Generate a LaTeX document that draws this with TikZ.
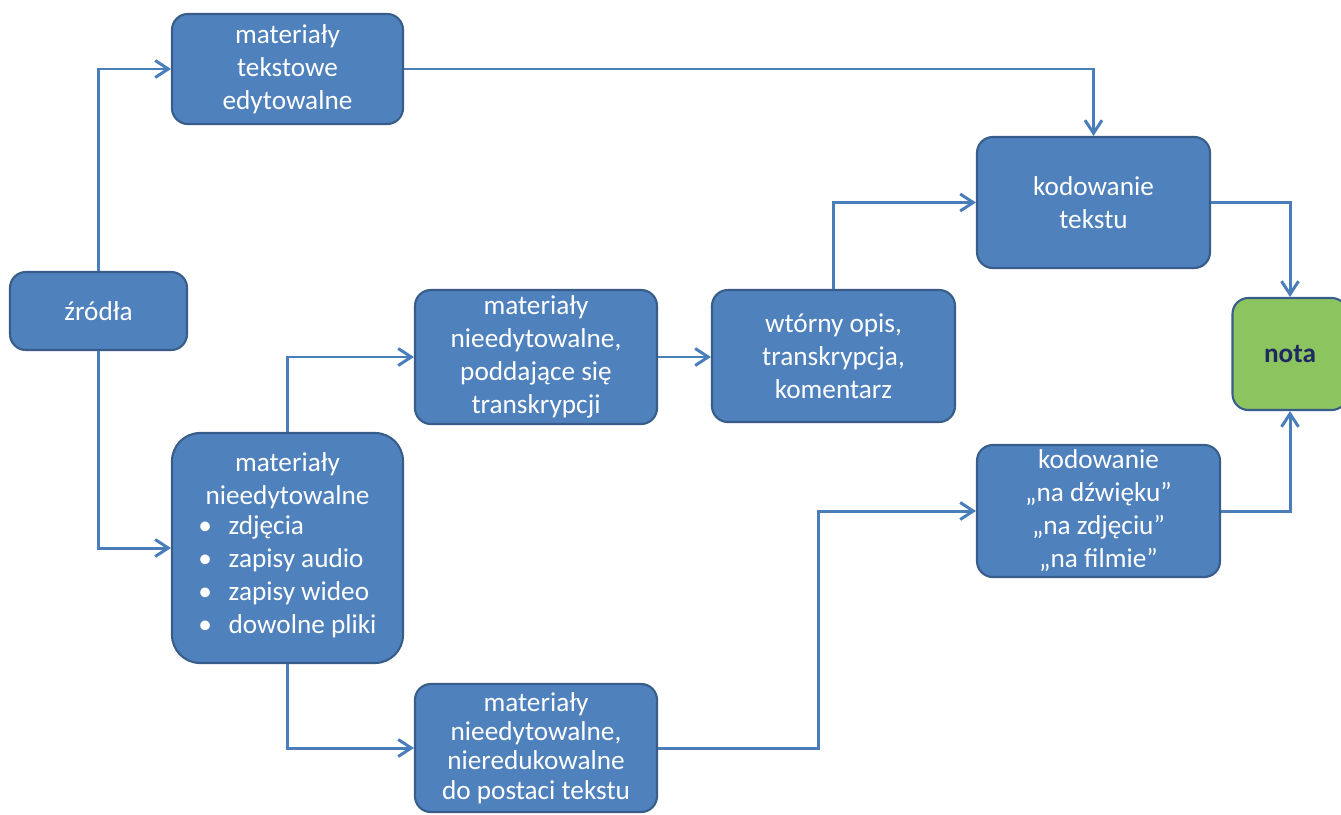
\documentclass[tikz,border=0pt]{standalone}
\usepackage{fontspec}
\setmainfont{Carlito}
\usepackage{xcolor}
\usepackage{tikz}
\usetikzlibrary{shapes,arrows.meta,positioning,calc}

\definecolor{boxblue}{HTML}{4F81BD}
\definecolor{boxedge}{HTML}{385D8A}
\definecolor{lineblue}{HTML}{4A7EBB}
\definecolor{notagreen}{HTML}{8CC45F}
\definecolor{notatext}{HTML}{1F2860}

\begin{document}
\begin{tikzpicture}[
  box/.style={rectangle, rounded corners=9pt, draw=boxedge, line width=1.2pt,
    fill=boxblue, text=white, align=center, inner sep=0pt,
    font=\fontsize{15.5}{18.8}\selectfont},
  link/.style={draw=lineblue, line width=1.7pt,
    -{Straight Barb[length=2.6mm,width=3.4mm,line width=1.7pt]}}]
\useasboundingbox[fill=white] (0,0) rectangle (26.82,-16.28);

% sources and their two kinds
\node[box, minimum width=3.54cm, minimum height=1.56cm] (zrodla) at (1.97,-6.22) {źródła};
\node[box, minimum width=4.62cm, minimum height=2.2cm] (tekst) at (5.75,-1.38)
  {materiały\\tekstowe\\edytowalne};
\node[box, rounded corners=16pt, minimum width=4.62cm, minimum height=4.6cm] (nieedyt) at (5.75,-10.96)
  {materiały\\nieedytowalne\\
   \begin{tabular}{@{}l@{\hspace{9.5pt}}l@{}}
   \textbullet & zdjęcia\\
   \textbullet & zapisy audio\\
   \textbullet & zapisy wideo\\
   \textbullet & dowolne pliki
   \end{tabular}};

% non-editable materials split
\node[box, minimum width=4.84cm, minimum height=2.68cm] (transkr) at (10.72,-7.14)
  {materiały\\nieedytowalne,\\poddające się\\transkrypcji};
\node[box, minimum width=4.84cm, minimum height=2.56cm,
  font=\fontsize{15.5}{16.6}\selectfont] (nieredu) at (10.72,-14.96)
  {materiały\\nieedytowalne,\\nieredukowalne\\do postaci tekstu};
\node[box, minimum width=4.86cm, minimum height=2.64cm] (wtorny) at (16.67,-7.12)
  {wtórny opis,\\transkrypcja,\\komentarz};

% encoding and result
\node[box, minimum width=4.66cm, minimum height=2.62cm] (kodtekst) at (21.87,-4.05)
  {kodowanie\\tekstu};
\node[box, minimum width=4.86cm, minimum height=2.64cm] (koddzw) at (21.97,-10.22)
  {kodowanie\\„na dźwięku”\\„na zdjęciu”\\„na filmie”};
\node[box, fill=notagreen, text=notatext, minimum width=2.3cm, minimum height=2.24cm,
  font=\fontsize{15.5}{18.8}\selectfont\bfseries] (nota) at (25.8,-7.08) {nota};

\coordinate (knee) at (16.36,-12);

\draw[link] (zrodla.north) |- (tekst.west);
\draw[link] (zrodla.south) |- (nieedyt.west);
\draw[link] (tekst.east) -| (kodtekst.north);
\draw[link] (nieedyt.north) |- (transkr.west);
\draw[link] (nieedyt.south) |- (nieredu.west);
\draw[link] (transkr.east) -- (transkr.east -| wtorny.west);
\draw[link] (wtorny.north) |- (kodtekst.west);
\draw[link] (nieredu.east) -- (nieredu.east -| knee) |- (koddzw.west);
\draw[link] (kodtekst.east) -| (nota.north);
\draw[link] (koddzw.east) -| (nota.south);
\end{tikzpicture}
\end{document}
